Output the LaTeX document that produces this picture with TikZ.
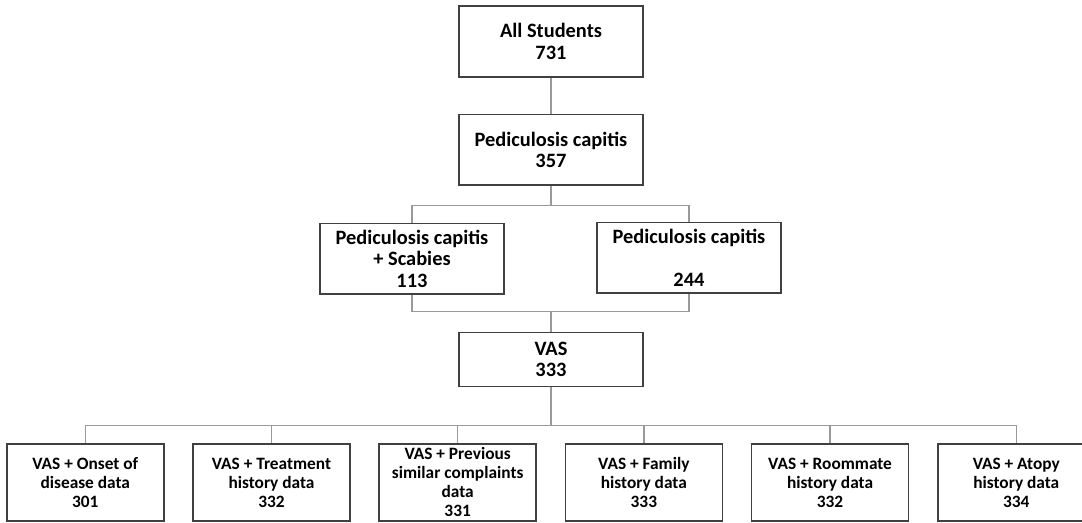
\documentclass[tikz,border=0pt]{standalone}
\usepackage{fontspec}
\setmainfont{Carlito}
\usetikzlibrary{positioning}

\begin{document}
\begin{tikzpicture}[
	box/.style={draw=black!75, line width=1.1pt, fill=white, align=center,
		font=\bfseries\fontsize{15.3}{16}\selectfont,
		minimum width=138pt, minimum height=53pt, inner sep=2pt},
	leaf/.style={box, font=\bfseries\fontsize{13}{14.25}\selectfont,
		minimum width=117.75pt, minimum height=57.75pt},
	link/.style={draw=black!40, line width=1pt},
	node distance=27pt] %
		\useasboundingbox (0,0) rectangle (811.5pt,-391.5pt) ;
		%%%%% Top
		\node[box] (all) at (413.25pt,-31.125pt) {All Students\\731} ; %
		\node[box, below=of all] (ped) {Pediculosis capitis\\357} ;
		%%%%% Split
		\node[box, below=of ped, xshift=-104.25pt, yshift=-0.75pt] (pcs) {Pediculosis capitis\\+ Scabies\\113} ;
		\node[box, below=of ped, xshift=103.5pt] (pc) {Pediculosis capitis\\[16pt]244} ;
		%%%%% VAS
		\node[box, below=of ped, yshift=-82.5pt, minimum height=40.5pt] (vas) {VAS\\333} ;
		%%%%% Data rows
		\node[leaf, below=of vas, xshift=-70pt, yshift=-15pt] (prev) {VAS + Previous\\similar complaints\\data\\331} ;
		\node[leaf, left=20.8pt of prev] (treat) {VAS + Treatment\\history data\\332} ;
		\node[leaf, left=20.8pt of treat] (onset) {VAS + Onset of\\disease data\\301} ;
		\node[leaf, right=20.8pt of prev] (family) {VAS + Family\\history data\\333} ;
		\node[leaf, right=20.8pt of family] (room) {VAS + Roommate\\history data\\332} ;
		\node[leaf, right=20.8pt of room] (atopy) {VAS + Atopy\\history data\\334} ;
		% Junctions
		\coordinate[below=15pt of ped] (J1) ;
		\coordinate[above=15pt of vas] (J2) ;
		\coordinate[below=28.5pt of vas] (J3) ;
		% Links
		\draw[link] (all) -- (ped) ;
		\draw[link] (ped) -- (J1) ;
		\draw[link] (J1) -| (pcs) ;
		\draw[link] (J1) -| (pc) ;
		\draw[link] (pcs) |- (J2) ;
		\draw[link] (pc) |- (J2) ;
		\draw[link] (J2) -- (vas) ;
		\draw[link] (vas) -- (J3) ;
		\draw[link] (J3) -| (onset) ;
		\draw[link] (J3) -| (treat) ;
		\draw[link] (J3) -| (prev) ;
		\draw[link] (J3) -| (family) ;
		\draw[link] (J3) -| (room) ;
		\draw[link] (J3) -| (atopy) ;
	\end{tikzpicture}
\end{document}
